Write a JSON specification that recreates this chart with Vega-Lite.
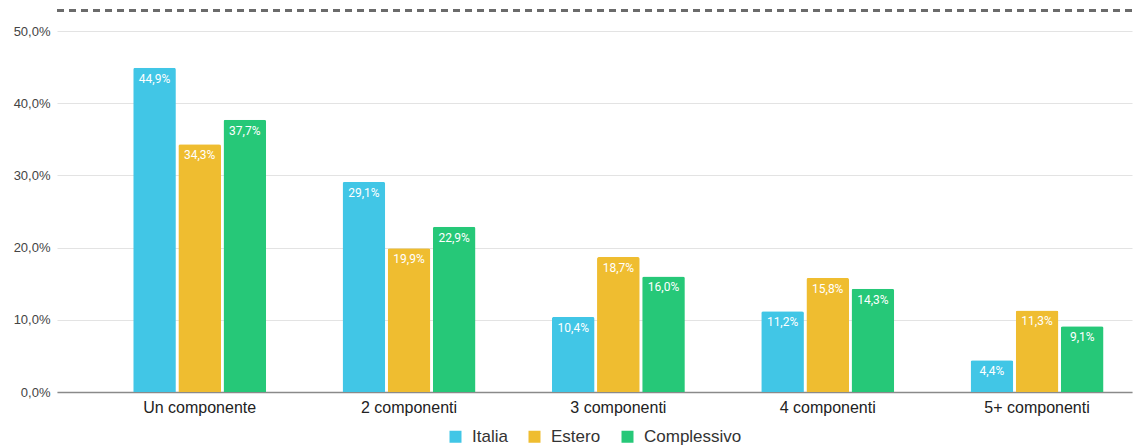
{
  "$schema": "https://vega.github.io/schema/vega-lite/v6.json",
  "width": 1075,
  "height": 361,
  "autosize": {"type": "none"},
  "padding": {"left": 57, "top": 31, "right": 13, "bottom": 56},
  "config": {
    "locale": {"number": {"decimal": ",", "thousands": ".", "grouping": [3], "currency": ["€", ""]}},
    "view": {"stroke": null},
    "font": "Liberation Sans",
    "legend": {"layout": {"bottom": {"anchor": "middle"}}}
  },
  "data": {
    "values": [
      {"componenti": "Un componente", "serie": "Italia", "quota": 0.449},
      {"componenti": "Un componente", "serie": "Estero", "quota": 0.343},
      {"componenti": "Un componente", "serie": "Complessivo", "quota": 0.377},
      {"componenti": "2 componenti", "serie": "Italia", "quota": 0.291},
      {"componenti": "2 componenti", "serie": "Estero", "quota": 0.199},
      {"componenti": "2 componenti", "serie": "Complessivo", "quota": 0.229},
      {"componenti": "3 componenti", "serie": "Italia", "quota": 0.104},
      {"componenti": "3 componenti", "serie": "Estero", "quota": 0.187},
      {"componenti": "3 componenti", "serie": "Complessivo", "quota": 0.160},
      {"componenti": "4 componenti", "serie": "Italia", "quota": 0.112},
      {"componenti": "4 componenti", "serie": "Estero", "quota": 0.158},
      {"componenti": "4 componenti", "serie": "Complessivo", "quota": 0.143},
      {"componenti": "5+ componenti", "serie": "Italia", "quota": 0.044},
      {"componenti": "5+ componenti", "serie": "Estero", "quota": 0.113},
      {"componenti": "5+ componenti", "serie": "Complessivo", "quota": 0.091}
    ]
  },
  "encoding": {
    "x": {
      "field": "componenti",
      "type": "nominal",
      "sort": ["Un componente", "2 componenti", "3 componenti", "4 componenti", "5+ componenti"],
      "scale": {"paddingInner": 0.365, "paddingOuter": 0.25, "align": 0.728},
      "axis": {
        "title": null,
        "labelAngle": 0,
        "ticks": false,
        "domainColor": "#8a8a8a",
        "domainWidth": 1.5,
        "labelFontSize": 16,
        "labelColor": "#222222",
        "labelPadding": 7
      }
    },
    "xOffset": {
      "field": "serie",
      "sort": ["Italia", "Estero", "Complessivo"],
      "scale": {"paddingInner": 0.055, "paddingOuter": 0}
    },
    "y": {
      "field": "quota",
      "type": "quantitative",
      "scale": {"domain": [0, 0.5], "nice": false},
      "axis": {
        "title": null,
        "format": ".1%",
        "values": [0, 0.1, 0.2, 0.3, 0.4, 0.5],
        "gridColor": "#e3e3e3",
        "gridWidth": 1.2,
        "domain": false,
        "ticks": false,
        "labelPadding": 7,
        "labelFontSize": 13,
        "labelColor": "#444444"
      }
    }
  },
  "layer": [
    {
      "mark": {"type": "bar", "cornerRadiusTopLeft": 2, "cornerRadiusTopRight": 2},
      "encoding": {
        "color": {
          "field": "serie",
          "type": "nominal",
          "sort": ["Italia", "Estero", "Complessivo"],
          "scale": {"domain": ["Italia", "Estero", "Complessivo"], "range": ["#41C6E6", "#EFBD30", "#26C878"]},
          "legend": {
            "title": null,
            "orient": "bottom",
            "direction": "horizontal",
            "symbolType": "square",
            "symbolSize": 144,
            "symbolStrokeWidth": 0,
            "labelFontSize": 17,
            "labelColor": "#333333",
            "columnPadding": 18,
            "labelOffset": 8,
            "offset": 13
          }
        }
      }
    },
    {
      "mark": {"type": "text", "baseline": "top", "dy": 6, "color": "white", "font": "Roboto", "fontSize": 12},
      "encoding": {
        "text": {"field": "quota", "type": "quantitative", "format": ".1%"}
      }
    },
    {
      "mark": {"type": "rule", "strokeDash": [7, 5], "strokeWidth": 2.5, "color": "#6b6b6b", "clip": false},
      "encoding": {
        "x": null,
        "xOffset": null,
        "y": {"datum": 0.528}
      }
    }
  ]
}
